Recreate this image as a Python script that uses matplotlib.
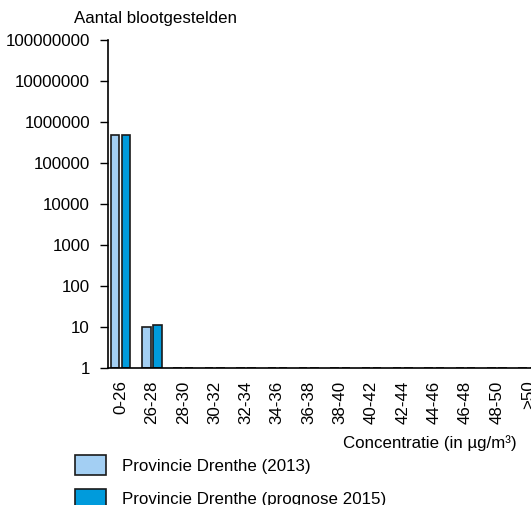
import matplotlib
matplotlib.use("Agg")
import matplotlib.pyplot as plt
import numpy as np
from matplotlib.patches import Patch
from matplotlib.ticker import FixedLocator, FixedFormatter

plt.rcParams['font.family'] = ['Liberation Sans', 'DejaVu Sans']

categories = ['0-26', '26-28', '28-30', '30-32', '32-34', '34-36', '36-38',
              '38-40', '40-42', '42-44', '44-46', '46-48', '48-50', '>50']
drenthe_2013 = [480000, 10, 1, 1, 1, 1, 1, 1, 1, 1, 1, 1, 1, 1]
drenthe_2015 = [480000, 11, 1, 1, 1, 1, 1, 1, 1, 1, 1, 1, 1, 1]
series_labels = ['Provincie Drenthe (2013)', 'Provincie Drenthe (prognose 2015)']
colors = ['#a3cff3', '#009bdc']
y_ticks = [1, 10, 100, 1000, 10000, 100000, 1000000, 10000000, 100000000]

W, H = 531, 505
fig = plt.figure(figsize=(W / 100, H / 100), dpi=100)
ax = fig.add_axes([108 / W, 1 - 368 / H, 436 / W, 328 / H])

x = np.arange(len(categories))
bw = 0.27
ax.bar(x - 0.18, np.array(drenthe_2013) - 1, bottom=1, width=bw,
       color=colors[0], edgecolor='#1a1a1a', linewidth=1.2)
ax.bar(x + 0.18, np.array(drenthe_2015) - 1, bottom=1, width=bw,
       color=colors[1], edgecolor='#1a1a1a', linewidth=1.2)

ax.set_yscale('log')
ax.set_ylim(1, 1e8)
ax.set_xlim(-0.4, 13.5)
ax.yaxis.set_major_locator(FixedLocator(y_ticks))
ax.yaxis.set_major_formatter(FixedFormatter([str(v) for v in y_ticks]))
ax.yaxis.set_minor_locator(FixedLocator([]))
ax.tick_params(axis='y', length=6, width=1, labelsize=12.2, pad=7)
ax.set_xticks(x)
ax.set_xticklabels(categories, rotation=90, va='top', ha='center')
ax.tick_params(axis='x', length=0, labelsize=12.2, pad=9)

for s in ['top', 'right']:
    ax.spines[s].set_visible(False)
for s in ['left', 'bottom']:
    ax.spines[s].set_linewidth(1.2)

fig.text(155 / W, 1 - 18 / H, 'Aantal blootgestelden', ha='center', va='center', fontsize=12.2)
fig.text(517 / W, 1 - 443 / H, 'Concentratie (in µg/m³)', ha='right', va='center', fontsize=12.2)

handles = [Patch(facecolor=colors[0], edgecolor='#1a1a1a', linewidth=1.2),
           Patch(facecolor=colors[1], edgecolor='#1a1a1a', linewidth=1.2)]
fig.legend(handles, series_labels, loc='upper left', bbox_to_anchor=(70 / W, 1 - 450 / H),
           frameon=False, fontsize=12.2, handlelength=1.8, handleheight=1.45,
           handletextpad=0.95, labelspacing=0.8, borderaxespad=0, borderpad=0.3)

fig.savefig('out.png', dpi=100)
